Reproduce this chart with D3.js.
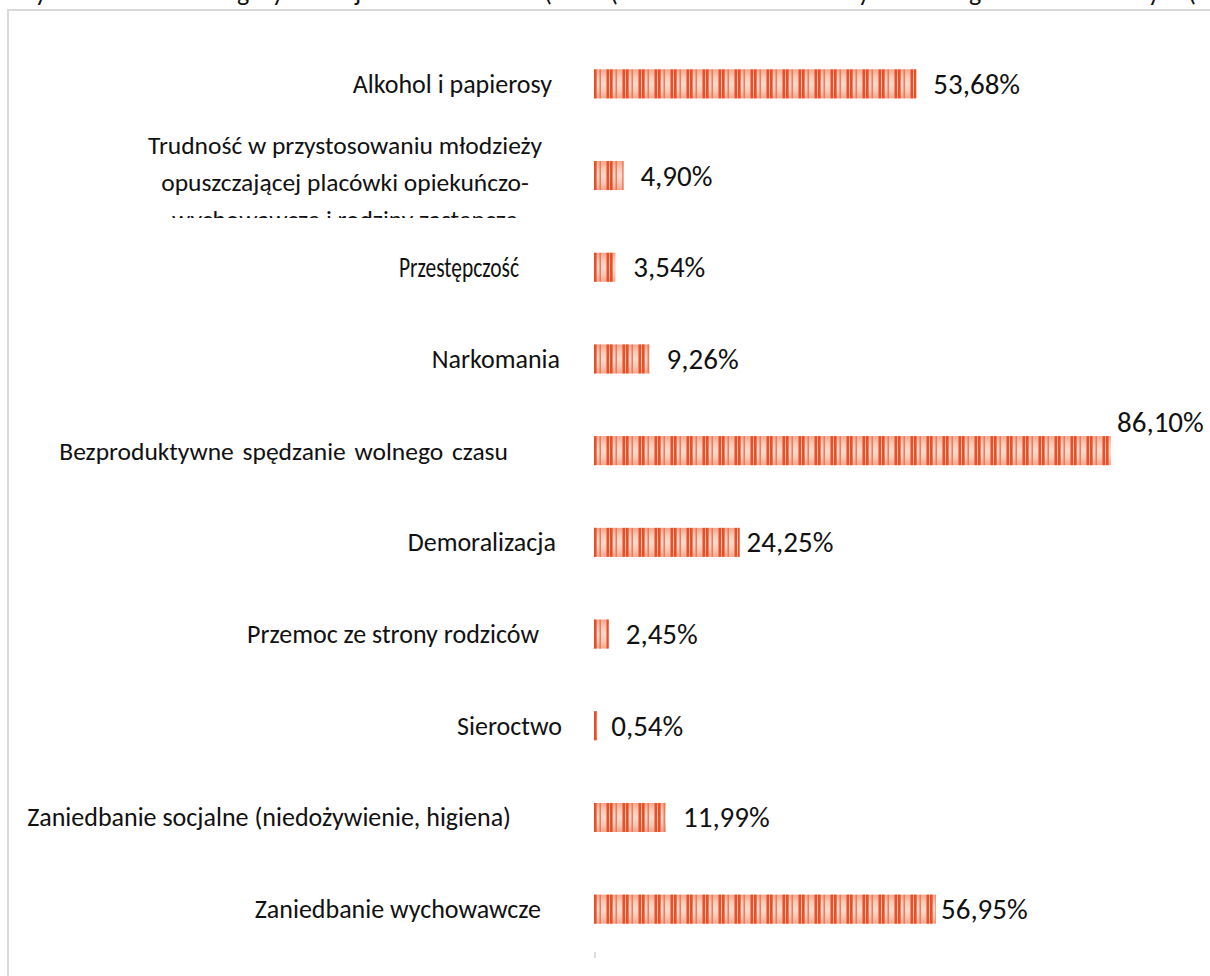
<!DOCTYPE html>
<html>
<head>
<meta charset="utf-8">
<script src="https://cdn.jsdelivr.net/npm/d3@7"></script>
<style>
  html, body { margin:0; padding:0; background:#fff; }
  svg text { font-family: Carlito, Lato, "Liberation Sans", sans-serif; fill:#111; }
</style>
</head>
<body>
<svg id="svg" width="1210" height="976"></svg>
<script>
// data, top to bottom
var categories = [
  "Alkohol i papierosy",
  "Trudność w przystosowaniu młodzieży opuszczającej placówki opiekuńczo-wychowawcze i rodziny zastępcze",
  "Przestępczość",
  "Narkomania",
  "Bezproduktywne spędzanie wolnego czasu",
  "Demoralizacja",
  "Przemoc ze strony rodziców",
  "Sieroctwo",
  "Zaniedbanie socjalne (niedożywienie, higiena)",
  "Zaniedbanie wychowawcze"
];
var values = [53.68, 4.90, 3.54, 9.26, 86.10, 24.25, 2.45, 0.54, 11.99, 56.95];
var valueLabels = ["53,68%","4,90%","3,54%","9,26%","86,10%","24,25%","2,45%","0,54%","11,99%","56,95%"];

// wrapped lines of the long label (the third one is cut off in the source)
var wrappedLines = [
  "Trudność w przystosowaniu młodzieży",
  "opuszczającej placówki opiekuńczo-",
  "wychowawcze i rodziny zastępcze"
];

// layout only: where each category label ends, gap between bar end and value label
var labelEnd = [552, 0, 519, 560, 508, 556, 539, 562, 511, 541];
var labelDx  = [17, 17, 18, 17, 6, 7, 17, 14, 17, 5];

var W = 1210, H = 976;
var svg = d3.select("#svg");

// descenders of the caption line that sits above the picture
var topGlyphs = [["y",35],["g",237],["y",272],["j",355],["(",544],["(",610],["y",858],["g",969],["y",1148],["(",1188]];
svg.selectAll(".topglyph")
  .data(topGlyphs)
  .enter().append("text")
  .attr("class","topglyph")
  .attr("x", function(d){ return d[1]; })
  .attr("y", 1)
  .style("font-size","26px")
  .text(function(d){ return d[0]; });

// frame of the chart area
svg.append("rect")
  .attr("x", 8).attr("y", 10)
  .attr("width", W + 20).attr("height", H + 20)
  .style("fill","none")
  .style("stroke","#d9d9d9")
  .style("stroke-width", 2);

var x = d3.scaleLinear().domain([0, 100]).range([594, 1194.5]);
var y = d3.scalePoint().domain(d3.range(categories.length)).range([38, 955]).padding(0.5);
var barH = 29;

var defs = svg.append("defs");
var grad = defs.append("linearGradient")
  .attr("id","barGrad").attr("x1",0).attr("y1",0).attr("x2",0).attr("y2",1);
grad.append("stop").attr("offset","0%").attr("stop-color","#f3a58c");
grad.append("stop").attr("offset","25%").attr("stop-color","#f8c9b8");
grad.append("stop").attr("offset","50%").attr("stop-color","#fbd9cd");
grad.append("stop").attr("offset","75%").attr("stop-color","#f8c9b8");
grad.append("stop").attr("offset","100%").attr("stop-color","#f3a58c");

// vertical stripes, period 16px, anchored at the bar start
var pat = defs.append("pattern")
  .attr("id","stripes")
  .attr("patternUnits","userSpaceOnUse")
  .attr("x", x(0)).attr("y", 0)
  .attr("width", 16).attr("height", 976);
pat.append("rect").attr("x",0).attr("y",0).attr("width",2.6).attr("height",976).style("fill","#e94e24");
pat.append("rect").attr("x",5.5).attr("y",0).attr("width",1.4).attr("height",976).style("fill","#ee7350");
pat.append("rect").attr("x",12.5).attr("y",0).attr("width",2.6).attr("height",976).style("fill","#e94e24");

var rows = svg.selectAll(".row")
  .data(values)
  .enter().append("g")
  .attr("class","row");

rows.append("rect")
  .attr("x", x(0))
  .attr("y", function(d,i){ return y(i) - barH/2; })
  .attr("width", function(d){ return Math.max(x(d) - x(0), 3); })
  .attr("height", barH)
  .style("fill","url(#barGrad)");

rows.append("rect")
  .attr("x", x(0))
  .attr("y", function(d,i){ return y(i) - barH/2; })
  .attr("width", function(d){ return Math.max(x(d) - x(0), 3); })
  .attr("height", barH)
  .style("fill","url(#stripes)");

// value labels
rows.append("text")
  .attr("x", function(d,i){ return x(d) + labelDx[i]; })
  .attr("y", function(d,i){ return i == 4 ? y(i) - 19 : y(i) + 10; })
  .style("font-size","29px")
  .text(function(d,i){ return valueLabels[i]; });

// category labels
rows.each(function(d,i){
  if (i == 1) return;
  var t = d3.select(this).append("text")
    .attr("x", labelEnd[i])
    .attr("y", y(i) + 9)
    .attr("text-anchor","end")
    .style("font-size", i == 2 ? "28px" : "26px")
    .text(categories[i]);
  if (i == 4) t.style("font-size","25.5px").style("word-spacing","3px");
  if (i == 2) {
    // condensed face in the source
    t.attr("y", y(i) + 10).attr("textLength", 120).attr("lengthAdjust","spacingAndGlyphs").attr("x", labelEnd[i] - 120).attr("text-anchor","start");
  }
});

// wrapped label, last line clipped by the plot area
defs.append("clipPath").attr("id","labelClip")
  .append("rect").attr("x",0).attr("y",0).attr("width",590).attr("height",218);
svg.append("g")
  .attr("clip-path","url(#labelClip)")
  .selectAll("text")
  .data(wrappedLines)
  .enter().append("text")
  .attr("x", 345)
  .attr("y", function(d,i){ return y(1) - 22 + i*37; })
  .attr("text-anchor","middle")
  .style("font-size","25.5px")
  .text(function(d){ return d; });

// stub of the axis line at the bottom
svg.append("line")
  .attr("x1", x(0) + 1).attr("x2", x(0) + 1)
  .attr("y1", 952).attr("y2", 958)
  .style("stroke","#bbb").style("stroke-width",1);
</script>
</body>
</html>
